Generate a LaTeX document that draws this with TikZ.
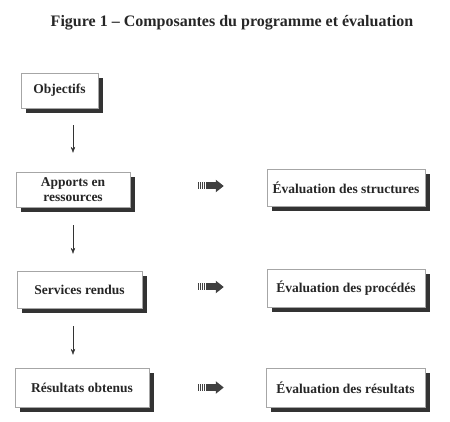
\documentclass[tikz,border=0pt]{standalone}
\usepackage{fontspec}
\setmainfont{Liberation Serif}
\usetikzlibrary{arrows.meta, positioning, shadows}

\begin{document}
\begin{tikzpicture}[
  x=1pt, y=-1pt,
  comp/.style={draw=gray!70, fill=white, thin, minimum height=37pt, inner sep=2pt,
               align=center, text=black!85,
               font=\fontsize{13.5}{15}\selectfont\bfseries,
               drop shadow={shadow xshift=5pt, shadow yshift=-5pt, fill=black!80, opacity=1}},
  ptitle/.style={font=\fontsize{16}{18}\selectfont\bfseries, text=black!85},
  flow/.style={-{Stealth[length=6pt, width=4.5pt]}, thin, black!80},
  stripes/.style={line width=7pt, black!75, dash pattern=on 1.2pt off 0.8pt},
  fat/.style={line width=7pt, black!75, -{Triangle[length=8pt, width=12pt]}},
]
\useasboundingbox (0,0) rectangle (450,422);

% --- title ---
\node[ptitle] (title) at (232, 23) {Figure 1 -- Composantes du programme et évaluation};

% --- program components (left) ---
\node[comp, minimum width=77pt, minimum height=35pt] (obj) at (59.5, 90.5) {Objectifs};
\node[comp, minimum width=114pt, minimum height=35pt] (app) at (73, 189.5) {Apports en\\ressources};
\node[comp, minimum width=125pt] (srv) at (79.5, 289.5) {Services rendus};
\node[comp, minimum width=134pt, minimum height=39pt] (res) at (82, 387.5) {Résultats obtenus};

% --- evaluation (right) ---
\node[comp, minimum width=158pt] (evs) at (346, 187.5) {Évaluation des structures};
\node[comp, minimum width=158pt, minimum height=38pt] (evp) at (346, 288) {Évaluation des procédés};
\node[comp, minimum width=159pt, minimum height=39pt] (evr) at (345.5, 387.5) {Évaluation des résultats};

% vertical links
\draw[flow, shorten <=17pt, shorten >=19pt] (obj.south -| app.north) -- (app.north);
\draw[flow, shorten <=18pt, shorten >=17pt] (app.south) -- (srv.north -| app.south);
\draw[flow, shorten <=18pt, shorten >=13pt] (srv.south -| app.south) -- (res.north -| app.south);

% striped arrows towards evaluation
\draw[stripes] ([xshift=-69pt, yshift=1.5pt]evs.west) -- ([xshift=-60pt, yshift=1.5pt]evs.west);
\draw[fat] ([xshift=-60pt, yshift=1.5pt]evs.west) -- ([xshift=-43pt, yshift=1.5pt]evs.west);
\draw[stripes] ([xshift=-69pt, yshift=1pt]evp.west) -- ([xshift=-60pt, yshift=1pt]evp.west);
\draw[fat] ([xshift=-60pt, yshift=1pt]evp.west) -- ([xshift=-43pt, yshift=1pt]evp.west);
\draw[stripes] ([xshift=-68pt]evr.west) -- ([xshift=-59pt]evr.west);
\draw[fat] ([xshift=-59pt]evr.west) -- ([xshift=-42pt]evr.west);

\end{tikzpicture}
\end{document}
